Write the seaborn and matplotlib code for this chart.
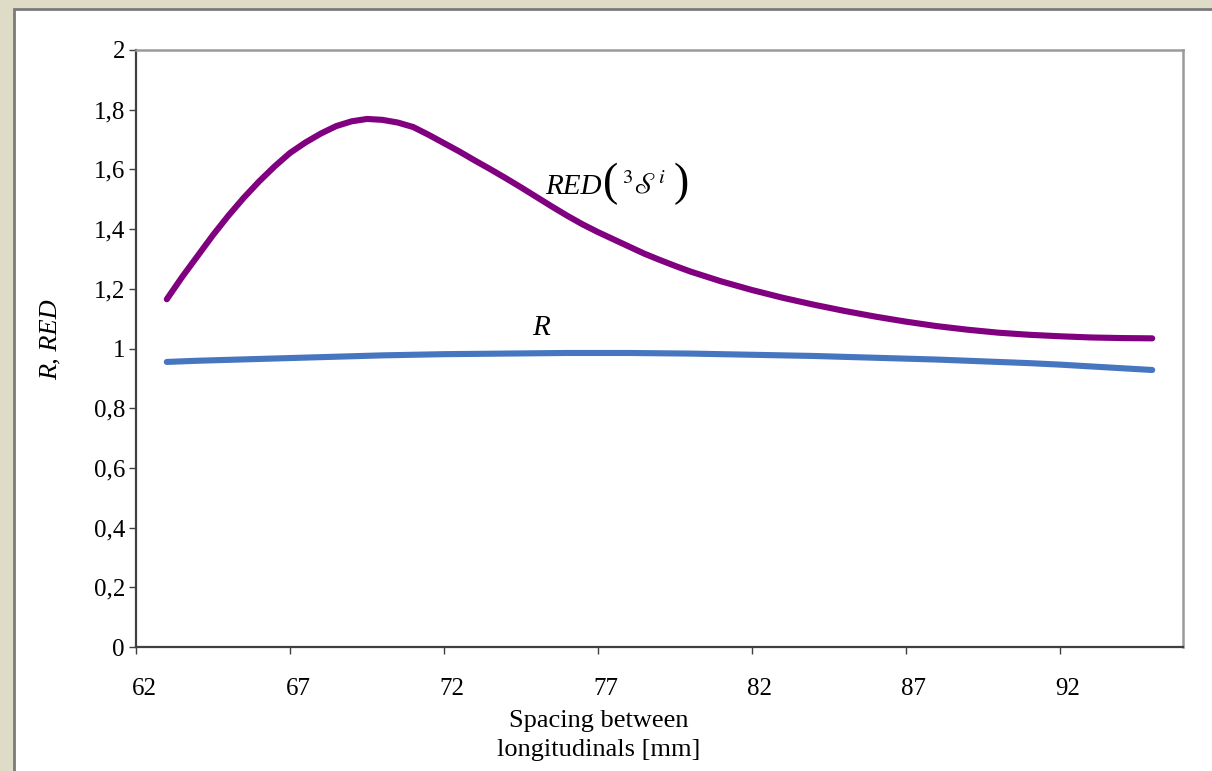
import matplotlib
matplotlib.use("Agg")
import matplotlib.pyplot as plt
import matplotlib.transforms as mtransforms
from matplotlib.patches import Rectangle
from matplotlib.ticker import FuncFormatter
import pandas as pd
import seaborn as sns

# spacing between longitudinals [mm] for the RED curve
red_spacing = [
    63, 63.5, 64, 64.5, 65, 65.5, 66, 66.5, 67, 67.5, 68, 68.5, 69, 69.5,
    70, 70.5, 71, 71.5, 72, 72.5, 73, 73.5, 74, 74.5, 75, 75.5, 76, 76.5,
    77, 77.5, 78, 78.5, 79, 79.5, 80, 81, 82, 83, 84, 85, 86, 87, 88, 89,
    90, 91, 92, 93, 94, 95,
]
red_values = [
    1.165, 1.24, 1.31, 1.38, 1.445, 1.505, 1.56, 1.61, 1.655, 1.69, 1.72,
    1.745, 1.761, 1.769, 1.766, 1.757, 1.742, 1.716, 1.688, 1.66, 1.63,
    1.601, 1.571, 1.54, 1.508, 1.476, 1.445, 1.416, 1.39, 1.366, 1.342,
    1.318, 1.297, 1.277, 1.258, 1.225, 1.196, 1.17, 1.147, 1.126, 1.107,
    1.09, 1.075, 1.063, 1.053, 1.046, 1.041, 1.037, 1.035, 1.034,
]

# spacing for the R curve
r_spacing = list(range(63, 96))
r_values = [
    0.955, 0.959, 0.962, 0.965, 0.968, 0.971, 0.974, 0.977, 0.979, 0.981,
    0.982, 0.983, 0.984, 0.985, 0.985, 0.985, 0.984, 0.983, 0.981, 0.979,
    0.977, 0.975, 0.972, 0.969, 0.966, 0.963, 0.959, 0.955, 0.951, 0.946,
    0.940, 0.934, 0.928,
]

x_ticks = [62, 67, 72, 77, 82, 87, 92]
y_ticks = [0, 0.2, 0.4, 0.6, 0.8, 1.0, 1.2, 1.4, 1.6, 1.8, 2.0]

PURPLE = "#800080"
BLUE = "#4676c0"

sns.set_theme(style="white")
plt.rcParams["font.family"] = ["Liberation Serif", "DejaVu Serif"]
plt.rcParams["mathtext.fontset"] = "stix"
plt.rcParams["text.color"] = "black"
plt.rcParams["axes.labelcolor"] = "black"

red_df = pd.DataFrame({"spacing": red_spacing, "value": red_values})
r_df = pd.DataFrame({"spacing": r_spacing, "value": r_values})

fig = plt.figure(figsize=(12.12, 7.71), dpi=100, facecolor="#dedcc6")
# white panel behind the chart
fig.patches.append(Rectangle((14 / 1212, -0.01), 1.0, 1 - 9 / 771 + 0.01,
                             transform=fig.transFigure, facecolor="white",
                             edgecolor="#7a7a7a", linewidth=2, zorder=-10))
ax = fig.add_axes([136 / 1212, 1 - 647 / 771, 1047 / 1212, 597 / 771])
ax.set_zorder(1)
ax.set_facecolor("white")

sns.lineplot(data=red_df, x="spacing", y="value", color=PURPLE, linewidth=4.4,
             solid_capstyle="round", solid_joinstyle="round", ax=ax)
sns.lineplot(data=r_df, x="spacing", y="value", color=BLUE, linewidth=4.4,
             solid_capstyle="round", solid_joinstyle="round", ax=ax)

ax.set_xlim(62, 96)
ax.set_ylim(0, 2)
ax.set_xticks(x_ticks)
ax.set_yticks(y_ticks)
ax.yaxis.set_major_formatter(FuncFormatter(lambda v, p: f"{v:g}".replace(".", ",")))

ax.tick_params(axis="both", which="major", direction="out", length=5,
               width=1, color="#404040", labelsize=18, labelcolor="black",
               left=True, bottom=True)
ax.tick_params(axis="x", pad=17)
ax.tick_params(axis="y", pad=3)
offset = mtransforms.ScaledTranslation(8 / 100, 0, fig.dpi_scale_trans)
for lbl in ax.get_xticklabels():
    lbl.set_transform(lbl.get_transform() + offset)

for side in ["left", "bottom"]:
    ax.spines[side].set_color("#404040")
    ax.spines[side].set_linewidth(1.6)
for side in ["top", "right"]:
    ax.spines[side].set_color("#9a9a9a")
    ax.spines[side].set_linewidth(1.8)

ax.set_xlabel("Spacing between\nlongitudinals [mm]", fontsize=19, linespacing=1.4,
              color="black")
ax.xaxis.set_label_coords(0.442, -0.106)
ax.set_ylabel("R, RED", fontsize=19, fontstyle="italic", color="black")
ax.yaxis.set_label_coords(-0.071, 0.515)

ax.text(75.15, 1.07, "R", fontsize=21, fontstyle="italic", ha="center", va="center",
        color="black")

# RED( 3S^i ) label, built from pieces so the brackets can be tall
anchor = (75.3, 1.54)
ax.annotate("RED", anchor, xytext=(0, 0), textcoords="offset pixels",
            fontsize=21, fontstyle="italic", ha="left", va="center", color="black")
ax.annotate("(", anchor, xytext=(57, 3), textcoords="offset pixels",
            fontsize=33, fontweight="light", ha="left", va="center", color="black")
ax.annotate(r"${}^{3}\mathscr{S}^{i}$", anchor, xytext=(76, 2), textcoords="offset pixels",
            fontsize=21, ha="left", va="center", color="black")
ax.annotate(")", anchor, xytext=(128, 3), textcoords="offset pixels",
            fontsize=33, fontweight="light", ha="left", va="center", color="black")

fig.savefig("out.png", dpi=100, facecolor=fig.get_facecolor())
